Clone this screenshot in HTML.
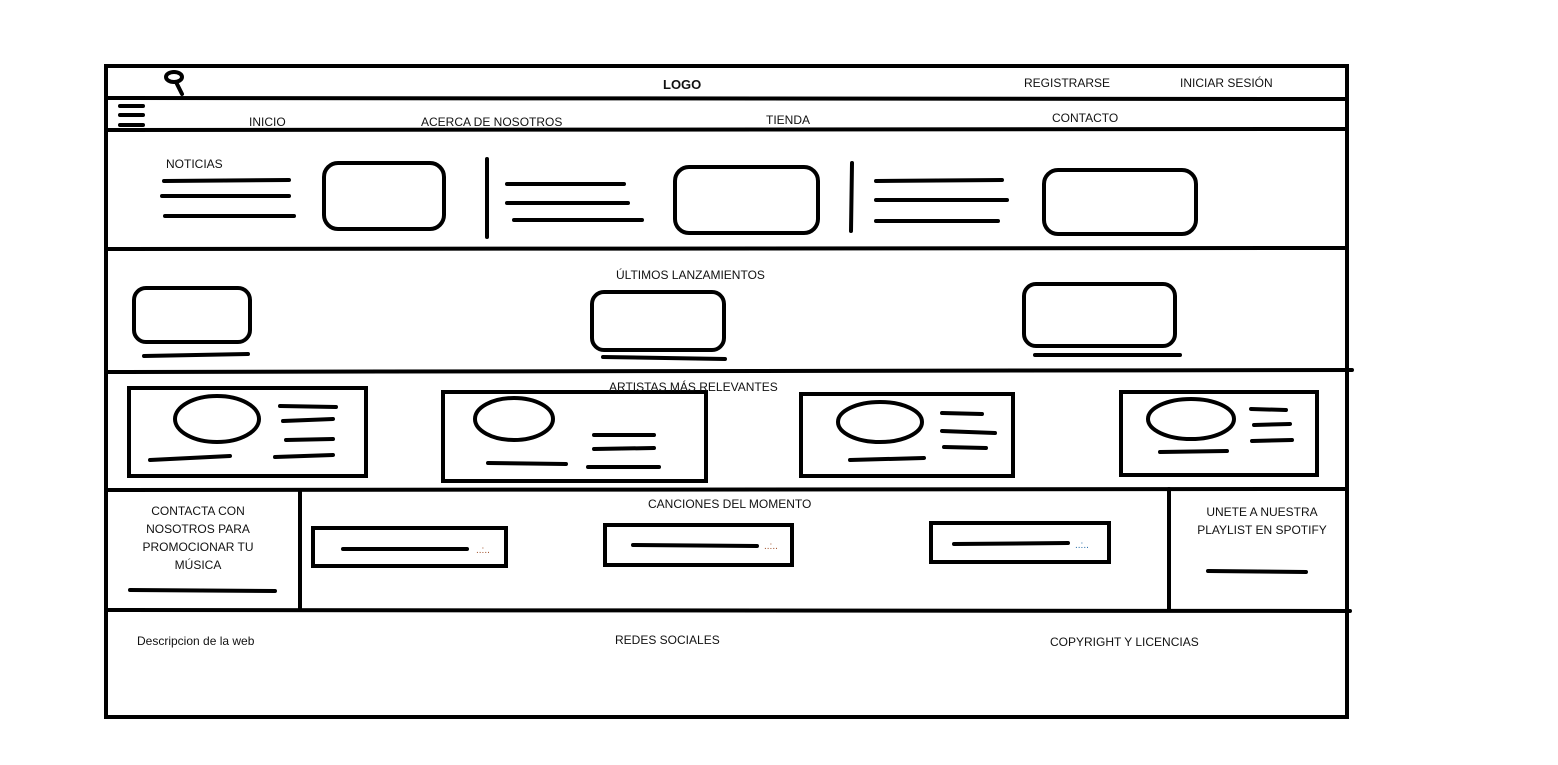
<!DOCTYPE html>
<html><head><meta charset="utf-8"><style>
html,body{margin:0;padding:0;background:#fff}
svg{display:block}
text{font-family:"Liberation Sans",sans-serif;font-size:12px;fill:#111}
</style></head><body>
<svg width="1558" height="765" viewBox="0 0 1558 765" xmlns="http://www.w3.org/2000/svg">
<g fill="none" stroke="#000" stroke-width="4" stroke-linecap="round">
<rect x="106" y="66" width="1241" height="651" stroke-linecap="butt"/>
<line x1="106" y1="98" x2="1347" y2="99"/>
<line x1="106" y1="130" x2="1347" y2="129"/>
<line x1="106" y1="249" x2="1345" y2="248"/>
<line x1="106" y1="372" x2="1352" y2="370"/>
<line x1="106" y1="490" x2="1347" y2="489"/>
<line x1="106" y1="610" x2="1350" y2="611"/>
<line x1="300" y1="490" x2="300" y2="610"/>
<line x1="1169" y1="489" x2="1169" y2="610"/>
<ellipse cx="174" cy="77" rx="8" ry="5"/>
<line x1="176" y1="82" x2="182" y2="94"/>
<line x1="120" y1="106" x2="143" y2="106"/>
<line x1="120" y1="115" x2="143" y2="115"/>
<line x1="120" y1="125" x2="143" y2="125"/>
<line x1="164" y1="181" x2="289" y2="180"/>
<line x1="162" y1="196" x2="289" y2="196"/>
<line x1="165" y1="216" x2="294" y2="216"/>
<rect x="324" y="163" width="120" height="66" rx="14"/>
<line x1="487" y1="159" x2="487" y2="237"/>
<line x1="507" y1="184" x2="624" y2="184"/>
<line x1="507" y1="203" x2="628" y2="203"/>
<line x1="514" y1="220" x2="642" y2="220"/>
<rect x="675" y="167" width="143" height="66" rx="14"/>
<line x1="852" y1="163" x2="851" y2="231"/>
<line x1="876" y1="181" x2="1002" y2="180"/>
<line x1="876" y1="200" x2="1007" y2="200"/>
<line x1="876" y1="221" x2="998" y2="221"/>
<rect x="1044" y="170" width="152" height="64" rx="14"/>
<rect x="134" y="288" width="116" height="54" rx="12"/>
<line x1="144" y1="356" x2="248" y2="354"/>
<rect x="592" y="292" width="132" height="58" rx="12"/>
<line x1="603" y1="357" x2="725" y2="359"/>
<rect x="1024" y="284" width="151" height="62" rx="12"/>
<line x1="1035" y1="355" x2="1180" y2="355"/>
<rect x="129" y="388" width="237" height="88" stroke-linecap="butt"/>
<ellipse cx="217" cy="419" rx="42" ry="23"/>
<line x1="280" y1="406" x2="336" y2="407"/>
<line x1="283" y1="421" x2="333" y2="419"/>
<line x1="286" y1="440" x2="333" y2="439"/>
<line x1="150" y1="460" x2="230" y2="456"/>
<line x1="275" y1="457" x2="333" y2="455"/>
<rect x="443" y="392" width="263" height="89" stroke-linecap="butt"/>
<ellipse cx="514" cy="419" rx="39" ry="21"/>
<line x1="594" y1="435" x2="654" y2="435"/>
<line x1="594" y1="449" x2="654" y2="448"/>
<line x1="488" y1="463" x2="566" y2="464"/>
<line x1="588" y1="467" x2="659" y2="467"/>
<rect x="801" y="394" width="212" height="82" stroke-linecap="butt"/>
<ellipse cx="880" cy="422" rx="42" ry="20"/>
<line x1="942" y1="413" x2="982" y2="414"/>
<line x1="942" y1="431" x2="995" y2="433"/>
<line x1="944" y1="447" x2="986" y2="448"/>
<line x1="850" y1="460" x2="924" y2="458"/>
<rect x="1121" y="392" width="196" height="83" stroke-linecap="butt"/>
<ellipse cx="1191" cy="419" rx="43" ry="20"/>
<line x1="1251" y1="409" x2="1286" y2="410"/>
<line x1="1254" y1="425" x2="1290" y2="424"/>
<line x1="1252" y1="441" x2="1292" y2="440"/>
<line x1="1160" y1="452" x2="1227" y2="451"/>
<rect x="313" y="528" width="193" height="38" stroke-linecap="butt"/>
<line x1="343" y1="549" x2="467" y2="549"/>
<rect x="605" y="525" width="187" height="40" stroke-linecap="butt"/>
<line x1="633" y1="545" x2="757" y2="546"/>
<rect x="931" y="523" width="178" height="39" stroke-linecap="butt"/>
<line x1="954" y1="544" x2="1068" y2="543"/>
<line x1="130" y1="590" x2="275" y2="591"/>
<line x1="1208" y1="571" x2="1306" y2="572"/>
</g>
<text x="476" y="553" style="font-size:10px;fill:#a0522d">..:..</text>
<text x="764" y="549" style="font-size:10px;fill:#a0522d">..:..</text>
<text x="1075" y="548" style="font-size:10px;fill:#2a6fa8">..:..</text>
<text x="663" y="89" style="font-weight:bold;font-size:13px">LOGO</text>
<text x="1024" y="87">REGISTRARSE</text>
<text x="1180" y="87">INICIAR SESIÓN</text>
<text x="249" y="126">INICIO</text>
<text x="421" y="126">ACERCA DE NOSOTROS</text>
<text x="766" y="124">TIENDA</text>
<text x="1052" y="122">CONTACTO</text>
<text x="166" y="168">NOTICIAS</text>
<text x="616" y="279">ÚLTIMOS LANZAMIENTOS</text>
<text x="609" y="391">ARTISTAS MÁS RELEVANTES</text>
<text x="648" y="508">CANCIONES DEL MOMENTO</text>
<text x="198" y="515" text-anchor="middle">CONTACTA CON</text>
<text x="198" y="533" text-anchor="middle">NOSOTROS PARA</text>
<text x="198" y="551" text-anchor="middle">PROMOCIONAR TU</text>
<text x="198" y="569" text-anchor="middle">MÚSICA</text>
<text x="1262" y="516" text-anchor="middle">UNETE A NUESTRA</text>
<text x="1262" y="534" text-anchor="middle">PLAYLIST EN SPOTIFY</text>
<text x="137" y="645">Descripcion de la web</text>
<text x="615" y="644">REDES SOCIALES</text>
<text x="1050" y="646">COPYRIGHT Y LICENCIAS</text>
</svg>
</body></html>
